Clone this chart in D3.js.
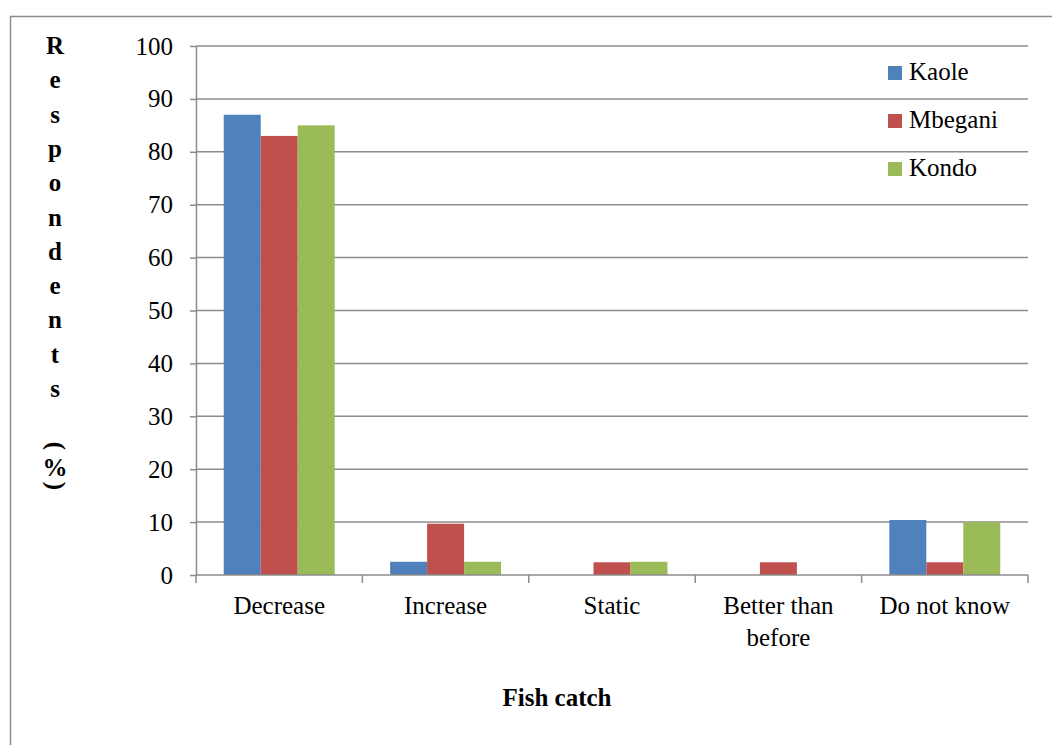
<!DOCTYPE html>
<html>
<head>
<meta charset="utf-8">
<script src="https://cdn.jsdelivr.net/npm/d3@7"></script>
<style>
  body { margin: 0; background: #fff; }
  svg, svg text, svg tspan { font-family: "Liberation Serif", "Times New Roman", "DejaVu Serif", serif !important; }
</style>
</head>
<body>
<svg id="drawing_region"></svg>
<script>
const categories = ["Decrease", "Increase", "Static", "Better than before", "Do not know"];
const seriesNames = ["Kaole", "Mbegani", "Kondo"];
const kaole = [87, 2.5, 0, 0, 10.4];
const mbegani = [83, 9.7, 2.4, 2.4, 2.4];
const kondo = [85, 2.5, 2.5, 0, 10];
const colors = ["#4F81BD", "#C0504D", "#9BBB59"];
const yTicks = [0, 10, 20, 30, 40, 50, 60, 70, 80, 90, 100];
const yTitle = ["R", "e", "s", "p", "o", "n", "d", "e", "n", "t", "s"];

const data = categories.map((c, i) => ({
    label: c,
    values: [kaole[i], mbegani[i], kondo[i]]
}));

const config = {
    width: 1052,
    height: 745,
    margin: { top: 46, right: 24, bottom: 170, left: 196 }
};
const FONT = '"Liberation Serif", "Times New Roman", serif';
const FS = 25;

const svg = d3.select('#drawing_region')
    .attr('width', config.width)
    .attr('height', config.height)
    .attr('font-family', FONT);

// outer frame
svg.append('rect')
    .attr('x', 10.5).attr('y', 16.5)
    .attr('width', 1060).attr('height', 800)
    .attr('fill', 'none')
    .attr('stroke', '#8c8c8c')
    .attr('stroke-width', 1.5);

const inner_width = config.width - config.margin.left - config.margin.right;
const inner_height = 575 - config.margin.top;

const chart = svg.append('g')
    .attr('transform', `translate(${config.margin.left}, ${config.margin.top})`);

const xscale = d3.scaleBand()
    .domain(categories)
    .range([0, inner_width]);

const xsub = d3.scaleBand()
    .domain(seriesNames)
    .range([xscale.bandwidth() / 6, xscale.bandwidth() * 5 / 6]);

const yscale = d3.scaleLinear()
    .domain([0, 100])
    .range([inner_height, 0]);

// gridlines
chart.append('g')
    .selectAll('line')
    .data(yTicks.slice(1))
    .join('line')
    .attr('x1', 0).attr('x2', inner_width)
    .attr('y1', d => yscale(d)).attr('y2', d => yscale(d))
    .attr('stroke', '#8c8c8c')
    .attr('stroke-width', 1.5);

// bars
const groups = chart.append('g')
    .selectAll('g')
    .data(data)
    .join('g')
    .attr('transform', d => `translate(${xscale(d.label)}, 0)`);

groups.selectAll('rect')
    .data(d => d.values.map((v, i) => ({ name: seriesNames[i], value: v, color: colors[i] })))
    .join('rect')
    .attr('x', d => xsub(d.name))
    .attr('y', d => yscale(d.value))
    .attr('width', xsub.bandwidth())
    .attr('height', d => inner_height - yscale(d.value))
    .attr('fill', d => d.color);

// y axis
const yaxis = d3.axisLeft(yscale)
    .tickValues(yTicks)
    .tickSize(6)
    .tickPadding(17)
    .tickSizeOuter(0);

const yaxis_group = chart.append('g').call(yaxis)
    .attr('font-family', FONT)
    .attr('font-size', FS);
yaxis_group.select('.domain').attr('stroke', '#8c8c8c').attr('stroke-width', 1.5);
yaxis_group.selectAll('.tick line').attr('stroke', '#8c8c8c').attr('stroke-width', 1.5);
yaxis_group.selectAll('.tick text').attr('fill', '#000');

// x axis
const xaxis_group = chart.append('g')
    .attr('transform', `translate(0, ${inner_height})`);
xaxis_group.append('line')
    .attr('x1', 0).attr('x2', inner_width)
    .attr('stroke', '#8c8c8c').attr('stroke-width', 1.5);
xaxis_group.selectAll('.xtick')
    .data(d3.range(categories.length + 1))
    .join('line')
    .attr('class', 'xtick')
    .attr('x1', i => i * xscale.step()).attr('x2', i => i * xscale.step())
    .attr('y1', 0).attr('y2', 8)
    .attr('stroke', '#8c8c8c').attr('stroke-width', 1.5);

const xlabels = xaxis_group.selectAll('.xlabel')
    .data(categories)
    .join('text')
    .attr('class', 'xlabel')
    .attr('x', d => xscale(d) + xscale.bandwidth() / 2)
    .attr('y', 39)
    .attr('text-anchor', 'middle')
    .attr('font-size', FS)
    .attr('fill', '#000');

xlabels.each(function(d) {
    const lines = d === "Better than before" ? ["Better than", "before"] : [d];
    d3.select(this).selectAll('tspan')
        .data(lines)
        .join('tspan')
        .attr('x', xscale(d) + xscale.bandwidth() / 2)
        .attr('dy', (l, i) => i === 0 ? 0 : 32)
        .text(l => l);
});

// y title, stacked letters
const ytitle = svg.append('g')
    .attr('font-weight', 'bold')
    .attr('font-size', FS)
    .attr('text-anchor', 'middle');

ytitle.selectAll('text.letter')
    .data(yTitle)
    .join('text')
    .attr('class', 'letter')
    .attr('x', 55)
    .attr('y', (d, i) => 54 + i * 34.3)
    .text(d => d);

// parentheses turned sideways, as in the original
ytitle.append('text')
    .attr('transform', 'translate(54, 446) rotate(90)')
    .attr('dy', '0.25em')
    .text('(');
ytitle.append('text')
    .attr('x', 55).attr('y', 476)
    .text('%');
ytitle.append('text')
    .attr('transform', 'translate(54, 486) rotate(90)')
    .attr('dy', '0.25em')
    .text(')');

// x title
svg.append('text')
    .attr('x', 557)
    .attr('y', 706)
    .attr('text-anchor', 'middle')
    .attr('font-weight', 'bold')
    .attr('font-size', FS)
    .text('Fish catch');

// legend
const legend = svg.append('g')
    .attr('transform', 'translate(888, 66)');
const items = legend.selectAll('g')
    .data(seriesNames)
    .join('g')
    .attr('transform', (d, i) => `translate(0, ${i * 48})`);
items.append('rect')
    .attr('width', 14).attr('height', 14)
    .attr('fill', (d, i) => colors[i]);
items.append('text')
    .attr('x', 21).attr('y', 14)
    .attr('font-size', FS)
    .text(d => d);
</script>
</body>
</html>
